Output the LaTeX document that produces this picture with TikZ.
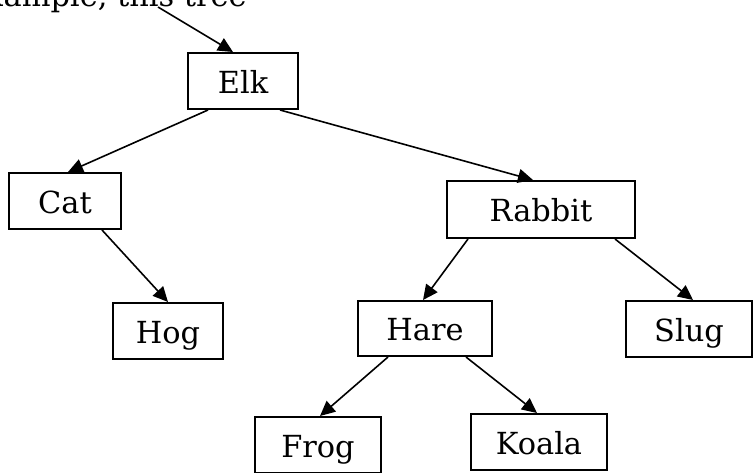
\documentclass[tikz,border=0pt]{standalone}
\usepackage{fontspec}
\setmainfont{DejaVu Serif}
\usetikzlibrary{arrows.meta,calc}
\tikzset{
  animal/.style={draw,line width=1pt,minimum height=28pt,inner sep=0pt,
    text height=12pt,text depth=0pt,font=\fontsize{15.2}{18}\selectfont},
  link/.style={line width=0.8pt,-{Triangle[length=7.5pt,width=7pt]}}
}
\begin{document}
\begin{tikzpicture}[x=0.5pt,y=-0.5pt]
  \useasboundingbox (0,0) rectangle (753,472);
  \clip (0,0) rectangle (753,472);
  \node[anchor=base east,inner sep=0pt,font=\fontsize{15.2}{18}\selectfont] (intro) at (247,6) {example, this tree};
  \coordinate (top) at (158,7);
  % the tree
  \node[animal,minimum width=55pt] (elk) at (243,81) {Elk};
  \node[animal,minimum width=56pt] (cat) at (65,201) {Cat};
  \node[animal,minimum width=55pt] (hog) at (168,331) {Hog};
  \node[animal,minimum width=94pt,minimum height=28.5pt] (rabbit) at (541,209.5) {Rabbit};
  \node[animal,minimum width=67pt,minimum height=27.5pt] (hare) at (425,328.5) {Hare};
  \node[animal,minimum width=63pt] (slug) at (689,329) {Slug};
  \node[animal,minimum width=63pt] (frog) at (318,445) {Frog};
  \node[animal,minimum width=68pt] (koala) at (539,442) {Koala};
  \draw[link] (top) -- ($(elk.north)+(-10,0)$);
  \foreach \a/\da/\b/\db in {elk/-35/cat/3,elk/37/rabbit/-8,cat/37/hog/0,
      rabbit/-73/hare/-2,rabbit/74/slug/4,hare/-37/frog/2,hare/41/koala/-2}
    \draw[link] ($(\a.south)+(\da,0)$) -- ($(\b.north)+(\db,0)$);
\end{tikzpicture}
\end{document}
